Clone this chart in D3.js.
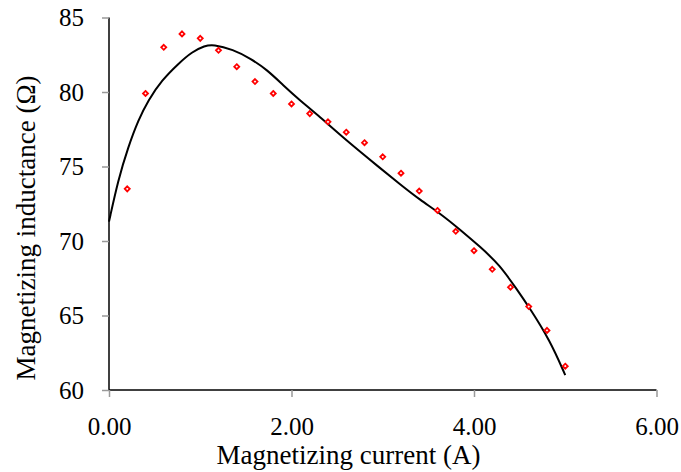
<!DOCTYPE html>
<html>
<head>
<meta charset="utf-8">
<script src="https://cdn.jsdelivr.net/npm/d3@7"></script>
<style>
  body { margin: 0; background: #fff; }
  text { font-family: "Liberation Serif", "Times New Roman", serif; fill: #000; }
</style>
</head>
<body>
<svg id="chart" width="681" height="472"></svg>
<script>
// measured points (red diamonds)
const currentA = [0.2, 0.4, 0.6, 0.8, 1.0, 1.2, 1.4, 1.6, 1.8, 2.0, 2.2, 2.4, 2.6,
    2.8, 3.0, 3.2, 3.4, 3.6, 3.8, 4.0, 4.2, 4.4, 4.6, 4.8, 5.0];
const inductance = [73.5, 79.9, 83.0, 83.9, 83.6, 82.8, 81.7, 80.7, 79.9, 79.2, 78.55, 78.0, 77.3,
    76.6, 75.65, 74.55, 73.35, 72.05, 70.65, 69.35, 68.1, 66.9, 65.6, 64.0, 61.6];

// fitted curve
const fitX = [0.0, 0.1, 0.21, 0.32, 0.43, 0.58, 0.76, 0.91, 1.05, 1.14, 1.36, 1.55, 1.73, 1.91,
    2.09, 2.27, 2.6, 2.97, 3.19, 3.41, 3.63, 3.85, 4.07, 4.28, 4.47, 4.61, 4.83, 5.0];
const fitY = [71.3, 74.1, 76.3, 78.1, 79.45, 80.8, 81.9, 82.7, 83.1, 83.2, 82.85, 82.25, 81.5, 80.45,
    79.45, 78.55, 76.75, 74.9, 73.8, 72.75, 71.85, 70.75, 69.6, 68.4, 66.75, 65.5, 63.35, 61.0];

const xTicks = [0, 2, 4, 6];
const yTicks = [60, 65, 70, 75, 80, 85];

const svg = d3.select('#chart');
const margin = {left: 109, right: 24.5, top: 17.5, bottom: 82};
const width = 681, height = 472;

const x = d3.scaleLinear().domain([0, 6]).range([margin.left, width - margin.right]);
const y = d3.scaleLinear().domain([60, 85]).range([height - margin.bottom, margin.top]);

// axes: gray ticks, black axis lines
const xAxis = svg.append('g')
    .attr('transform', `translate(0,${y(60)})`)
    .call(d3.axisBottom(x).tickValues(xTicks).tickFormat(d3.format('.2f')).tickSize(7).tickPadding(20));
const yAxis = svg.append('g')
    .attr('transform', `translate(${x(0)},0)`)
    .call(d3.axisLeft(y).tickValues(yTicks).tickSize(7).tickPadding(18));

[xAxis, yAxis].forEach(a => {
    a.select('.domain').attr('stroke', '#000').attr('stroke-width', 1.5);
    a.selectAll('.tick line').attr('stroke', '#999').attr('stroke-width', 1.5);
    a.selectAll('.tick text').attr('font-size', 25)
        .attr('font-family', '"Liberation Serif", serif');
});
// no outer tick caps on the domain path
xAxis.select('.domain').attr('d', `M${x(0)},0H${x(6)}`);
yAxis.select('.domain').attr('d', `M0,${y(60)}V${y(85)}`);

// fitted curve
const fit = fitX.map((v, i) => [v, fitY[i]]);
svg.append('path')
    .datum(fit)
    .attr('fill', 'none')
    .attr('stroke', '#000')
    .attr('stroke-width', 2)
    .attr('d', d3.line().x(d => x(d[0])).y(d => y(d[1])).curve(d3.curveBasis));

// markers
svg.append('g')
    .selectAll('path')
    .data(currentA.map((v, i) => [v, inductance[i]]))
    .enter().append('path')
    .attr('transform', d => `translate(${x(d[0])},${y(d[1])})`)
    .attr('d', d3.symbol(d3.symbolDiamond2, 16))
    .attr('fill', '#fff')
    .attr('stroke', '#f00')
    .attr('stroke-width', 1.8);

// axis titles
svg.append('text')
    .attr('x', 348.5)
    .attr('y', 464)
    .attr('text-anchor', 'middle')
    .attr('font-size', 27)
    .text('Magnetizing current (A)');

svg.append('text')
    .attr('transform', `translate(35,${228}) rotate(-90)`)
    .attr('text-anchor', 'middle')
    .attr('font-size', 27)
    .text('Magnetizing inductance (Ω)');
</script>
</body>
</html>
